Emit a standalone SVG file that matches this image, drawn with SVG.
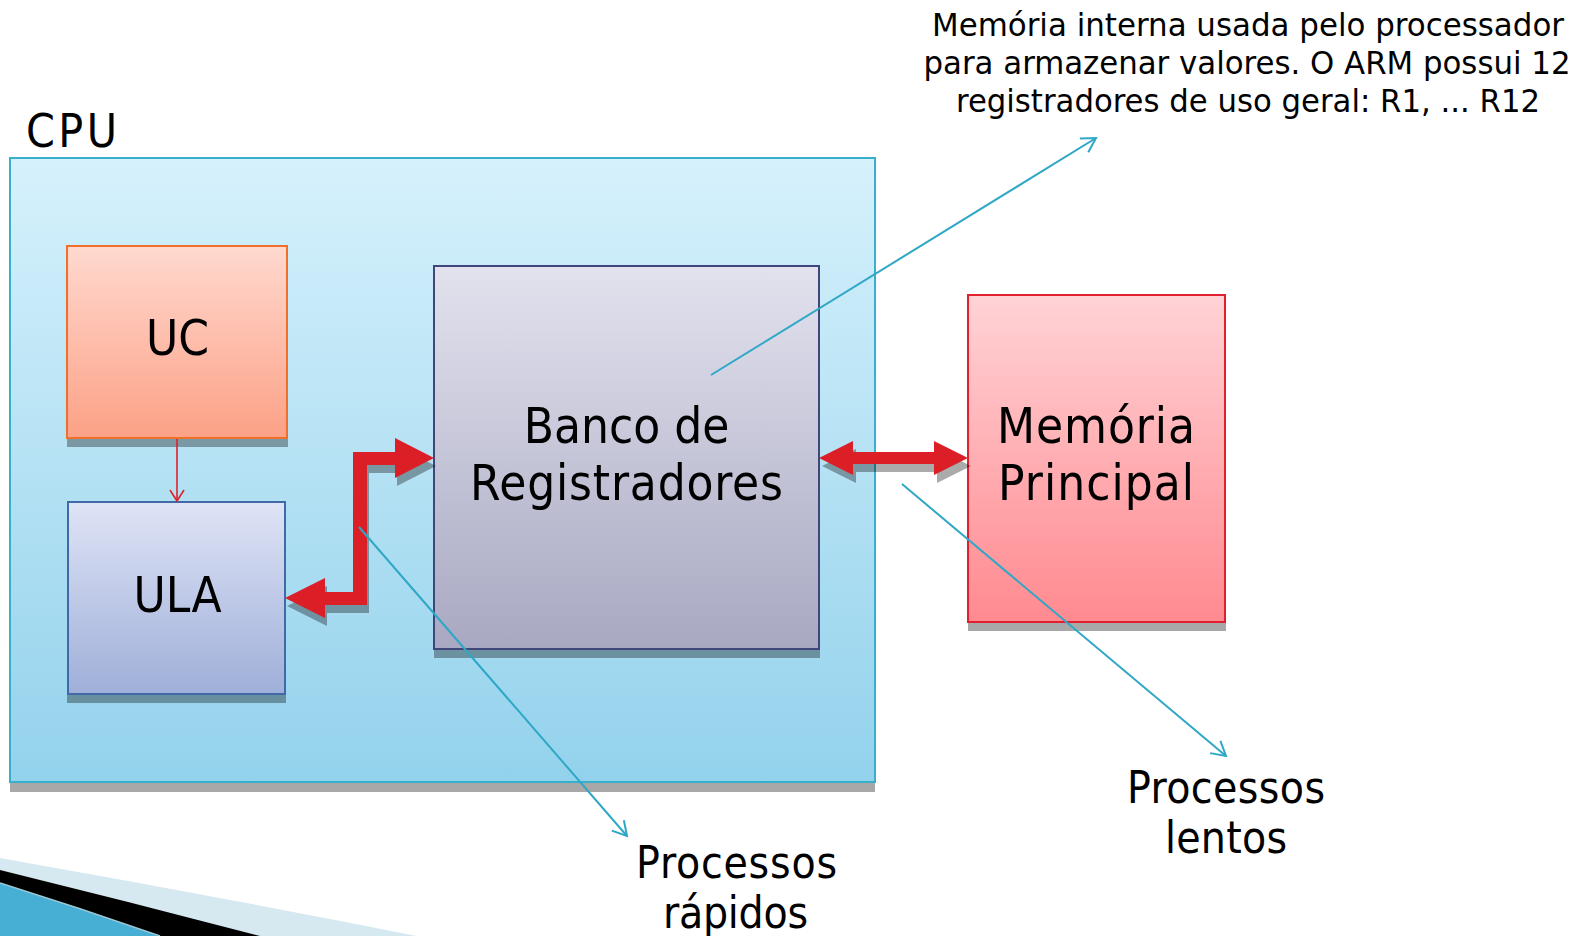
<svg xmlns="http://www.w3.org/2000/svg" width="1591" height="936" viewBox="0 0 1591 936">
  <style>
    .t { font-family: "DejaVu Sans Condensed", "DejaVu Sans", sans-serif; font-stretch: condensed; fill: #000; }
    .big { font-size: 49px; text-anchor: middle; }
    .mid { font-size: 44px; text-anchor: middle; }
    .note { font-size: 32.5px; text-anchor: middle; }
    .shadow { fill: #000; opacity: 0.33; }
    .callout { fill: none; stroke: #2fa7c6; stroke-width: 2; }
    .thin-red { fill: none; stroke: #e0202c; stroke-width: 1.6; }
    .fat-red { fill: #dc1f27; }
  </style>
  <defs>
    <linearGradient id="gCpu" x1="0" y1="0" x2="0" y2="1">
      <stop offset="0" stop-color="#d6f1fc"/>
      <stop offset="1" stop-color="#93d2ec"/>
    </linearGradient>
    <linearGradient id="gUc" x1="0" y1="0" x2="0" y2="1">
      <stop offset="0" stop-color="#ffd9cf"/>
      <stop offset="1" stop-color="#fca186"/>
    </linearGradient>
    <linearGradient id="gUla" x1="0" y1="0" x2="0" y2="1">
      <stop offset="0" stop-color="#dfe4f6"/>
      <stop offset="1" stop-color="#9fafd9"/>
    </linearGradient>
    <linearGradient id="gBanco" x1="0" y1="0" x2="0" y2="1">
      <stop offset="0" stop-color="#e2e2ee"/>
      <stop offset="1" stop-color="#a8a8c2"/>
    </linearGradient>
    <linearGradient id="gMem" x1="0" y1="0" x2="0" y2="1">
      <stop offset="0" stop-color="#ffd3d6"/>
      <stop offset="1" stop-color="#ff8a90"/>
    </linearGradient>
    <marker id="openBlue" viewBox="0 0 20 20" refX="18" refY="10" markerWidth="20" markerHeight="20" markerUnits="userSpaceOnUse" orient="auto">
      <path d="M4 2 L18 10 L4 18" fill="none" stroke="#2fa7c6" stroke-width="2"/>
    </marker>
    <marker id="openRed" viewBox="0 0 16 16" refX="14" refY="8" markerWidth="16" markerHeight="16" markerUnits="userSpaceOnUse" orient="auto">
      <path d="M3 1 L14 8 L3 15" fill="none" stroke="#e0202c" stroke-width="1.6"/>
    </marker>
  </defs>

  <rect width="1591" height="936" fill="#ffffff"/>

  <!-- slide corner swoosh -->
  <g id="corner-swoosh">
    <path d="M0 858 Q210 895 417 936 L0 936 Z" fill="#d6e9f1"/>
    <path d="M0 870 Q130 902 260 936 L0 936 Z" fill="#000"/>
    <path d="M0 883 Q80 908 160 936 L0 936 Z" fill="#47afd4"/>
    <path d="M0 883 Q80 908 160 936" fill="none" stroke="#9cc9da" stroke-width="1.5"/>
  </g>

  <!-- CPU container -->
  <g id="cpu">
    <rect x="10" y="167" width="865" height="625" fill="#a8a8a8"/>
    <rect x="10" y="158" width="865" height="624" fill="url(#gCpu)" stroke="#38afcb" stroke-width="2"/>
    <text class="t" x="26" y="147" font-size="46" textLength="91">CPU</text>
  </g>

  <g id="uc">
    <rect class="shadow" x="67" y="254" width="221" height="193"/>
    <rect x="67" y="246" width="220" height="192" fill="url(#gUc)" stroke="#f06f2a" stroke-width="2"/>
    <text class="t big" x="177.5" y="355">UC</text>
  </g>

  <g id="ula">
    <rect class="shadow" x="67" y="510" width="219" height="193"/>
    <rect x="68" y="502" width="217" height="192" fill="url(#gUla)" stroke="#4169a8" stroke-width="2"/>
    <text class="t big" x="177.5" y="612">ULA</text>
  </g>

  <g id="banco">
    <rect class="shadow" x="434" y="274" width="386" height="384"/>
    <rect x="434" y="266" width="385" height="383" fill="url(#gBanco)" stroke="#41467a" stroke-width="2"/>
    <text class="t big" x="626.5" y="443">Banco de</text>
    <text class="t big" x="626.5" y="500" textLength="313">Registradores</text>
  </g>

  <g id="memoria">
    <rect x="968" y="303" width="258" height="328" fill="#a8a8a8"/>
    <rect x="968" y="295" width="257" height="327" fill="url(#gMem)" stroke="#e0202e" stroke-width="2"/>
    <text class="t big" x="1096" y="443" textLength="198">Memória</text>
    <text class="t big" x="1096" y="500" textLength="196">Principal</text>
  </g>

  <g id="nota-registradores">
    <text class="t note" x="1248" y="36" textLength="632" lengthAdjust="spacingAndGlyphs">Memória interna usada pelo processador</text>
    <text class="t note" x="1247" y="74" textLength="647" lengthAdjust="spacingAndGlyphs">para armazenar valores. O ARM possui 12</text>
    <text class="t note" x="1248" y="112" textLength="584" lengthAdjust="spacingAndGlyphs">registradores de uso geral: R1, ... R12</text>
  </g>

  <g id="rotulo-rapidos">
    <text class="t mid" x="736.5" y="878" textLength="201">Processos</text>
    <text class="t mid" x="735.5" y="928" textLength="145">rápidos</text>
  </g>

  <g id="rotulo-lentos">
    <text class="t mid" x="1226" y="803" textLength="198">Processos</text>
    <text class="t mid" x="1226" y="853" textLength="122">lentos</text>
  </g>

  <!-- connectors -->
  <g id="connectors">
    <!-- UC to ULA control line -->
    <line class="thin-red" x1="177" y1="439" x2="177" y2="501" marker-end="url(#openRed)"/>

    <!-- data path ULA <-> register bank -->
    <path class="shadow" transform="translate(2,8)" d="M434 458 L395 438 L395 452 L353 452 L353 592 L325 592 L325 578 L285 598 L325 618 L325 605 L367 605 L367 465 L395 465 L395 478 Z"/>
    <path class="fat-red" d="M434 458 L395 438 L395 452 L353 452 L353 592 L325 592 L325 578 L285 598 L325 618 L325 605 L367 605 L367 465 L395 465 L395 478 Z"/>

    <!-- register bank <-> main memory -->
    <path class="shadow" transform="translate(3,8)" d="M819 458 L853 441 L853 452 L934 452 L934 441 L968 458 L934 475 L934 464 L853 464 L853 475 Z"/>
    <path class="fat-red" d="M819 458 L853 441 L853 452 L934 452 L934 441 L968 458 L934 475 L934 464 L853 464 L853 475 Z"/>

    <!-- callouts -->
    <line class="callout" x1="711" y1="375" x2="1096" y2="138" marker-end="url(#openBlue)"/>
    <line class="callout" x1="359" y1="527" x2="627" y2="836" marker-end="url(#openBlue)"/>
    <line class="callout" x1="902" y1="484" x2="1226" y2="756" marker-end="url(#openBlue)"/>
  </g>
</svg>
